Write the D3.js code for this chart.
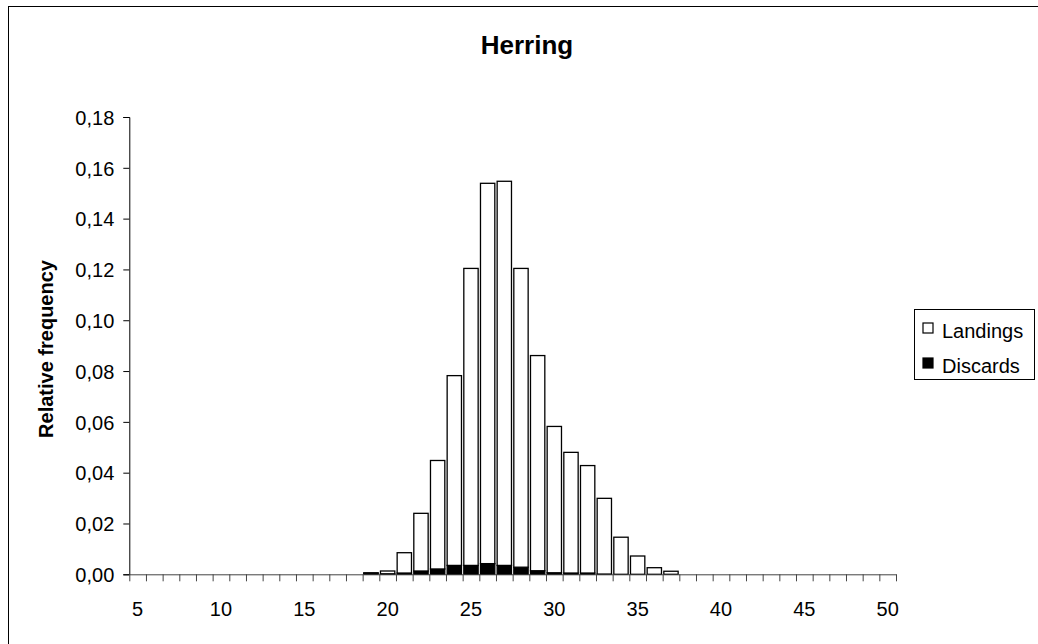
<!DOCTYPE html>
<html>
<head>
<meta charset="utf-8">
<script src="https://cdn.jsdelivr.net/npm/d3@7"></script>
<style>
  html, body { margin: 0; padding: 0; background: #fff; }
  svg { display: block; }
  text { font-family: "Liberation Sans", Arial, sans-serif; fill: #000; }
</style>
</head>
<body>
<svg id="chart" width="1038" height="644"></svg>
<script>
// ---- data ----
const categories = d3.range(5, 51); // lengths 5..50
const discards = [
  0,0,0,0,0,0,0,0,0,0,0,0,0,0,        // 5..18
  0.0004,0.0002,0.0005,0.0013,0.0021,0.0035,0.0035,0.0042,0.0035,0.0028, // 19..28
  0.0014,0.0006,0.0005,0.0005,0.0001,0,0,0,0,                           // 29..37
  0,0,0,0,0,0,0,0,0,0,0,0,0,0,0,0,0,0,0,0 // 38..50 (padding trimmed below)
].slice(0, 46);
const landings = [
  0,0,0,0,0,0,0,0,0,0,0,0,0,0,        // 5..18
  0.0002,0.0011,0.0080,0.0227,0.0427,0.0747,0.1169,0.1497,0.1512,0.1176, // 19..28
  0.0847,0.0576,0.0475,0.0423,0.0298,0.0146,0.0072,0.0026,0.0012,        // 29..37
  0,0,0,0,0,0,0,0,0,0,0,0,0,0,0,0,0,0,0,0 // 38..50
].slice(0, 46);
const yTicks = [0,0.02,0.04,0.06,0.08,0.10,0.12,0.14,0.16,0.18];
const xLabelTicks = [5,10,15,20,25,30,35,40,45,50];
const seriesNames = ["Landings","Discards"];
const seriesColors = {"Landings":"#ffffff","Discards":"#000000"};
const titleText = "Herring";
const yTitle = "Relative frequency";

// ---- layout ----
const svg = d3.select("#chart");
const plot = {left: 129.3, right: 896, top: 117, bottom: 574.3};

// outer frame
svg.append("rect").attr("x", 8.5).attr("y", 6.5).attr("width", 1060).attr("height", 680)
  .attr("fill", "none").attr("stroke", "#000").attr("stroke-width", 1);

const x = d3.scaleBand().domain(categories).range([plot.left, plot.right])
  .paddingInner(0.14).paddingOuter(0.07);
const y = d3.scaleLinear().domain([0, 0.18]).range([plot.bottom, plot.top]);

// stacked data
const rows = categories.map((c, i) => ({cat: c, Discards: discards[i], Landings: landings[i]}));
const stack = d3.stack().keys(["Discards","Landings"])(rows);

svg.append("g").selectAll("g").data(stack).join("g")
  .attr("fill", d => seriesColors[d.key])
  .selectAll("rect").data(d => d.filter(p => p[1] - p[0] > 0)).join("rect")
  .attr("x", d => x(d.data.cat))
  .attr("width", x.bandwidth())
  .attr("y", d => y(d[1]))
  .attr("height", d => y(d[0]) - y(d[1]))
  .attr("stroke", "#000").attr("stroke-width", 1.3);

// y axis
const yAxis = svg.append("g").attr("transform", `translate(${plot.left},0)`)
  .call(d3.axisLeft(y).tickValues(yTicks).tickSize(6).tickPadding(9)
    .tickFormat(d => d.toFixed(2).replace(".", ",")));
yAxis.selectAll("text").style("font-size", "20px").attr("dy", "0.36em");
yAxis.selectAll("line, path").attr("stroke", "#000");

// x axis: boundary ticks
const xb = d3.scaleLinear().domain([0, categories.length]).range([plot.left, plot.right]);
const xAxis = svg.append("g").attr("transform", `translate(0,${plot.bottom})`)
  .call(d3.axisBottom(xb).tickValues(d3.range(0, categories.length + 1)).tickSize(7).tickSizeOuter(0).tickFormat(""));
xAxis.selectAll("line").attr("stroke", "#444");
xAxis.select("path").attr("stroke", "#444");

// x axis labels
const xLab = svg.append("g").attr("transform", `translate(0,${plot.bottom})`)
  .call(d3.axisBottom(x).tickValues(xLabelTicks).tickSize(0).tickPadding(28));
xLab.select("path").remove();
xLab.selectAll("text").style("font-size", "20px");

// title
svg.append("text").attr("x", 527).attr("y", 54).attr("text-anchor", "middle")
  .style("font-size", "26px").style("font-weight", "bold").text(titleText);

// y title
svg.append("text").attr("transform", "translate(53,349) rotate(-90)").attr("text-anchor", "middle")
  .style("font-size", "20px").style("font-weight", "bold").text(yTitle);

// legend
const lg = svg.append("g");
lg.append("rect").attr("x", 914.5).attr("y", 309.5).attr("width", 120).attr("height", 70)
  .attr("fill", "#fff").attr("stroke", "#000");
seriesNames.forEach((name, i) => {
  const yy = 323 + i * 35;
  lg.append("rect").attr("x", 923).attr("y", yy).attr("width", 10).attr("height", 10)
    .attr("fill", seriesColors[name]).attr("stroke", "#000").attr("stroke-width", 1.2);
  lg.append("text").attr("x", 942).attr("y", yy + 14.5).style("font-size", "20px").text(name);
});
</script>
</body>
</html>
